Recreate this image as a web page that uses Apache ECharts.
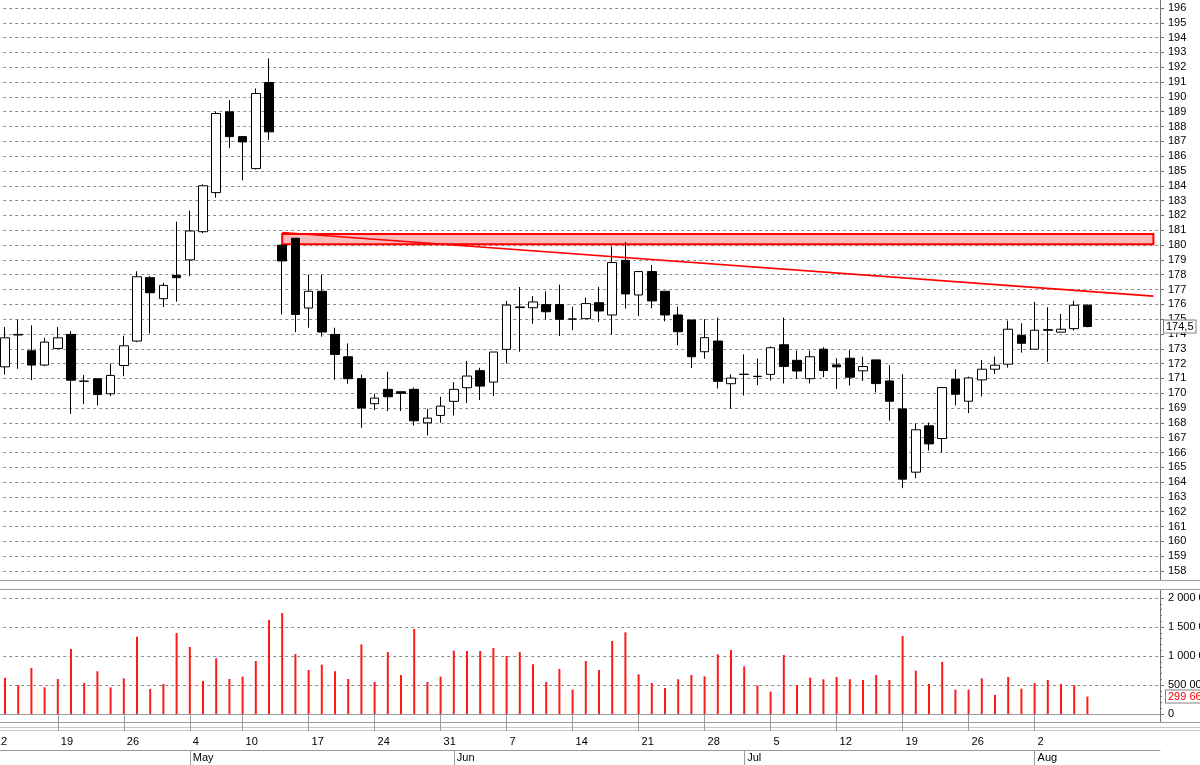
<!DOCTYPE html>
<html><head><meta charset="utf-8">
<script src="https://cdn.jsdelivr.net/npm/echarts@6/dist/echarts.min.js"></script>
<style>html,body{margin:0;padding:0;background:#fff;overflow:hidden}#c{width:1200px;height:765px}</style>
</head><body><div id="c"></div>
<script>
// ---- categories (trading days; first one is cut off at the left edge, last five are empty space) ----
const dates = [
 '2021-04-12','2021-04-13','2021-04-14','2021-04-15','2021-04-16','2021-04-19','2021-04-20','2021-04-21','2021-04-22','2021-04-23',
 '2021-04-26','2021-04-27','2021-04-28','2021-04-29','2021-04-30',
 '2021-05-04','2021-05-05','2021-05-06','2021-05-07','2021-05-10','2021-05-11','2021-05-12','2021-05-13','2021-05-14',
 '2021-05-17','2021-05-18','2021-05-19','2021-05-20','2021-05-21','2021-05-24','2021-05-25','2021-05-26','2021-05-27','2021-05-28','2021-05-31',
 '2021-06-01','2021-06-02','2021-06-03','2021-06-04','2021-06-07','2021-06-08','2021-06-09','2021-06-10','2021-06-11',
 '2021-06-14','2021-06-15','2021-06-16','2021-06-17','2021-06-18','2021-06-21','2021-06-22','2021-06-23','2021-06-24','2021-06-25',
 '2021-06-28','2021-06-29','2021-06-30','2021-07-01','2021-07-02','2021-07-05','2021-07-06','2021-07-07','2021-07-08','2021-07-09',
 '2021-07-12','2021-07-13','2021-07-14','2021-07-15','2021-07-16','2021-07-19','2021-07-20','2021-07-21','2021-07-22','2021-07-23',
 '2021-07-26','2021-07-27','2021-07-28','2021-07-29','2021-07-30','2021-08-02','2021-08-03','2021-08-04','2021-08-05','2021-08-06'
];
const emptyDates = ['2021-08-09','2021-08-10','2021-08-11','2021-08-12','2021-08-13'];

// ---- OHLC (null = not visible) ----
const opens = [null,
 171.78,173.93,172.86,171.90,173.02,173.97,170.80,170.97,169.96,171.87,
 173.52,177.80,176.38,177.95,179.00,180.90,183.54,188.99,187.32,185.16,
 190.97,179.99,180.46,175.75,176.88,173.97,172.46,170.98,169.29,170.26,
 170.10,170.26,168.00,168.50,169.45,170.37,171.52,170.75,172.96,175.82,
 175.77,175.98,175.98,175.00,175.03,176.11,175.28,178.97,176.63,178.21,
 176.88,175.28,174.94,172.80,173.52,170.64,171.27,171.13,171.27,173.27,
 172.22,170.98,172.97,171.91,172.36,171.51,172.25,170.83,168.94,164.67,
 167.80,166.94,170.94,169.46,170.90,171.62,171.96,173.89,172.97,174.29,
 174.12,174.36,175.94];
const closes = [null,
 173.74,173.97,171.90,173.45,173.74,170.88,170.82,169.91,171.20,173.20,
 177.86,176.78,177.28,177.80,180.95,184.00,188.88,187.32,186.96,190.23,
 187.64,178.93,175.32,176.88,174.13,172.62,170.98,169.00,169.67,169.76,
 169.99,168.14,168.32,169.13,170.26,171.16,170.48,172.78,175.95,175.78,
 176.16,175.50,174.99,175.01,176.05,175.55,178.82,176.70,178.21,176.23,
 175.28,174.15,172.46,173.75,170.80,171.02,171.28,171.14,173.07,171.81,
 171.50,172.46,171.53,171.78,171.08,171.80,170.65,169.46,164.20,167.53,
 166.58,170.38,169.93,171.03,171.62,171.89,174.32,173.37,174.25,174.25,
 174.32,175.94,174.50];
const lows = [null,
 171.27,171.65,170.88,171.83,173.00,168.60,169.26,169.17,169.80,171.15,
 173.45,174.04,175.82,176.18,177.90,180.80,183.20,186.54,184.37,185.10,
 187.10,175.32,174.13,174.42,173.82,170.91,170.64,167.67,168.86,168.79,
 168.80,167.82,167.15,168.00,168.50,169.33,169.54,169.81,172.01,172.80,
 174.69,174.99,173.86,174.27,175.00,174.81,173.97,175.71,175.21,175.73,
 174.85,173.25,171.70,172.33,170.32,168.95,169.85,170.55,170.86,170.66,
 170.98,170.66,171.08,170.29,170.52,170.83,170.05,168.15,163.59,164.26,
 166.13,166.00,169.17,168.65,169.78,171.30,171.73,172.74,172.97,172.12,
 174.12,174.23,174.45];
const highs = [null,
 174.46,174.98,174.58,173.74,174.46,174.20,171.22,171.00,171.99,173.88,
 178.23,177.90,177.46,181.58,182.32,184.10,189.00,189.78,187.32,190.57,
 192.60,180.05,180.46,178.00,178.00,174.42,173.36,171.25,169.96,171.45,
 170.10,170.37,168.95,169.76,170.75,172.17,171.72,172.78,176.23,177.17,
 176.56,176.88,177.33,175.84,176.45,177.17,179.90,180.21,178.25,178.66,
 176.88,175.84,174.94,175.00,175.10,171.27,172.62,172.33,173.16,175.10,
 172.87,172.87,173.10,172.36,172.92,172.47,172.25,171.89,171.28,167.97,
 168.02,170.38,171.62,171.12,172.25,172.47,174.90,174.72,176.16,175.80,
 175.35,176.25,176.00];

// ---- volume (thousands of shares) ----
const volumes = [null,
 626,500,793,460,603,1121,534,736,460,615,
 1333,431,517,1397,1155,569,960,603,644,914,
 1621,1741,1034,759,851,736,603,1201,552,1069,
 672,1466,552,644,1092,1086,1086,1138,1000,1069,
 856,552,776,420,914,759,1259,1408,684,534,
 448,598,672,649,1029,1103,822,494,385,1017,
 500,626,598,638,598,586,672,586,1345,747,
 517,897,420,420,615,328,638,437,534,586,
 517,500,299.66];

// ---- axis ranges / ticks ----
const priceAxis = {min: 158, max: 196, interval: 1};
const volumeAxis = {min: 0, max: 2000, interval: 500};

// ---- annotations ----
const resistanceZone = {from: '2021-05-13', to: '2021-08-13', low: 180.05, high: 180.75};
const trendLine = {from: '2021-05-13', fromValue: 180.85, to: '2021-08-13', toValue: 176.55};
const lastPrice = 174.5;
const lastVolume = 299.66;

// ---------------------------------------------------------------
const cats = dates.concat(emptyDates);
const nData = dates.length;
const candleData = cats.map((d, i) => (i < nData && opens[i] != null) ? [opens[i], closes[i], lows[i], highs[i]] : '-');
const volData = cats.map((d, i) => (i < nData && volumes[i] != null) ? volumes[i] : '-');

function dt(s){ const p = s.split('-'); return new Date(+p[0], +p[1]-1, +p[2]); }
function isWeekStart(i){
  if (i >= nData) return false;
  if (i === 0) return true;
  const a = dt(cats[i-1]), b = dt(cats[i]);
  return b.getDay() <= a.getDay() || (b - a) >= 7*864e5;
}
function isMonthStart(i){
  if (i >= nData || i === 0) return false;
  return dt(cats[i-1]).getMonth() !== dt(cats[i]).getMonth();
}
const monthNames = ['Jan','Feb','Mar','Apr','May','Jun','Jul','Aug','Sep','Oct','Nov','Dec'];
function spaced(n){ return String(Math.round(n)).replace(/\B(?=(\d{3})+(?!\d))/g, ' '); }

const FONT = 'Liberation Sans';
const BAND = 13.2;
const GL = 5 - BAND*1.5;            // grid left so that first visible candle sits at x=5
const GW = BAND*cats.length;        // ends at the right axis (x=1160)
const gridDash = {type: [3, 3], color: '#8a8a8a', width: 1};
const frame = '#9a9a9a';
const hidden = {color: 'rgba(0,0,0,0)', width: 0};

const chart = echarts.init(document.getElementById('c'), null, {renderer: 'canvas'});
chart.setOption({
  animation: false,
  backgroundColor: '#ffffff',
  grid: [
    {left: GL, width: GW, top: 8, height: 563, containLabel: false, outerBoundsMode: 'none'},
    {left: GL, width: GW, top: 598, height: 116, containLabel: false, outerBoundsMode: 'none'}
  ],
  xAxis: [
    {gridIndex: 0, type: 'category', data: cats, boundaryGap: true,
     axisLine: {show: false}, axisTick: {show: false}, axisLabel: {show: false}, splitLine: {show: false}},
    {gridIndex: 1, type: 'category', data: cats, boundaryGap: true, position: 'bottom', offset: 19,
     axisLine: {show: true, lineStyle: {color: frame}},
     axisTick: {show: true, alignWithLabel: true, length: 17, interval: (i) => isWeekStart(i), lineStyle: {color: frame}},
     axisLabel: {show: true, interval: (i) => isWeekStart(i), align: 'left', padding: [0,0,0,3], margin: 3,
       color: '#000', fontFamily: FONT, fontSize: 11, hideOverlap: false,
       formatter: (v) => String(dt(v).getDate())},
     splitLine: {show: false}},
    {gridIndex: 1, type: 'category', data: cats, boundaryGap: true, position: 'bottom', offset: 36,
     axisLine: {show: true, lineStyle: {color: frame}},
     axisTick: {show: true, alignWithLabel: true, length: 15, interval: (i) => isMonthStart(i), lineStyle: {color: frame}},
     axisLabel: {show: true, interval: (i) => isMonthStart(i), align: 'left', padding: [0,0,0,3], margin: 2,
       color: '#000', fontFamily: FONT, fontSize: 11,
       formatter: (v) => monthNames[dt(v).getMonth()]},
     splitLine: {show: false}}
  ],
  yAxis: [
    {gridIndex: 0, type: 'value', position: 'right', min: priceAxis.min, max: priceAxis.max, interval: priceAxis.interval,
     axisLine: {show: true, lineStyle: {color: '#707070'}},
     axisTick: {show: true, length: 4, lineStyle: {color: '#707070'}},
     axisLabel: {color: '#000', fontFamily: FONT, fontSize: 11, margin: 8},
     splitLine: {show: true, lineStyle: gridDash}},
    {gridIndex: 1, type: 'value', position: 'right', min: volumeAxis.min, max: volumeAxis.max, interval: volumeAxis.interval,
     axisLine: {show: true, lineStyle: {color: '#707070'}},
     axisTick: {show: true, length: 4, lineStyle: {color: '#707070'}},
     minorTick: {show: true, splitNumber: 5, length: 2, lineStyle: {color: '#707070'}},
     axisLabel: {color: '#000', fontFamily: FONT, fontSize: 11, margin: 8, formatter: (v) => spaced(v*1000)},
     splitLine: {show: true, lineStyle: gridDash}}
  ],
  series: [
    {type: 'candlestick', xAxisIndex: 0, yAxisIndex: 0, data: candleData, barWidth: 9,
     itemStyle: {color: '#ffffff', color0: '#000000', borderColor: '#000000', borderColor0: '#000000', borderWidth: 1},
     markArea: {silent: true,
       itemStyle: {color: 'rgba(250,150,150,0.65)', borderColor: '#ff0000', borderWidth: 2},
       data: [[{coord: [resistanceZone.from, resistanceZone.high]}, {coord: [resistanceZone.to, resistanceZone.low]}]]},
     markLine: {silent: true, symbol: 'none', animation: false, z: 10,
       data: [
         [{coord: [trendLine.from, trendLine.fromValue], lineStyle: {color: '#ff0000', width: 1.6, type: 'solid'}, label: {show: false}},
          {coord: [trendLine.to, trendLine.toValue]}],
         {yAxis: lastPrice, lineStyle: hidden,
          label: {show: true, position: 'end', distance: 4, formatter: () => String(lastPrice).replace('.', ','),
            color: '#000', fontFamily: FONT, fontSize: 11, backgroundColor: '#fff', borderColor: '#808080', borderWidth: 1, padding: [1,2,0,2], opacity: 1}}
       ]}
    },
    {type: 'bar', xAxisIndex: 1, yAxisIndex: 1, data: volData, barWidth: 2,
     itemStyle: {color: '#ff1a1a'},
     markLine: {silent: true, symbol: 'none', animation: false, z: 10,
       data: [{yAxis: lastVolume, lineStyle: hidden,
          label: {show: true, position: 'end', distance: 6, formatter: () => spaced(lastVolume*1000),
            color: '#ff0000', fontFamily: FONT, fontSize: 11, backgroundColor: '#fff', borderColor: '#808080', borderWidth: 1, padding: [1,2,0,2], opacity: 1}}]}
    }
  ],
  graphic: [
    {type: 'line', shape: {x1: 0, y1: 580.5, x2: 1200, y2: 580.5}, style: {stroke: frame, lineWidth: 1}, silent: true},
    {type: 'line', shape: {x1: 0, y1: 589.5, x2: 1200, y2: 589.5}, style: {stroke: frame, lineWidth: 1}, silent: true},
    {type: 'line', shape: {x1: 1160.5, y1: 0, x2: 1160.5, y2: 580}, style: {stroke: '#707070', lineWidth: 1}, silent: true},
    {type: 'line', shape: {x1: 1160.5, y1: 590, x2: 1160.5, y2: 722}, style: {stroke: '#707070', lineWidth: 1}, silent: true},
    {type: 'line', shape: {x1: 0, y1: 722.5, x2: 1200, y2: 722.5}, style: {stroke: frame, lineWidth: 1}, silent: true},
    {type: 'line', shape: {x1: 0, y1: 727.5, x2: 1200, y2: 727.5}, style: {stroke: '#c8c8c8', lineWidth: 1}, silent: true},
    {type: 'line', shape: {x1: 0, y1: 730.5, x2: 1200, y2: 730.5}, style: {stroke: '#c8c8c8', lineWidth: 1}, silent: true}
  ]
});
</script></body></html>
